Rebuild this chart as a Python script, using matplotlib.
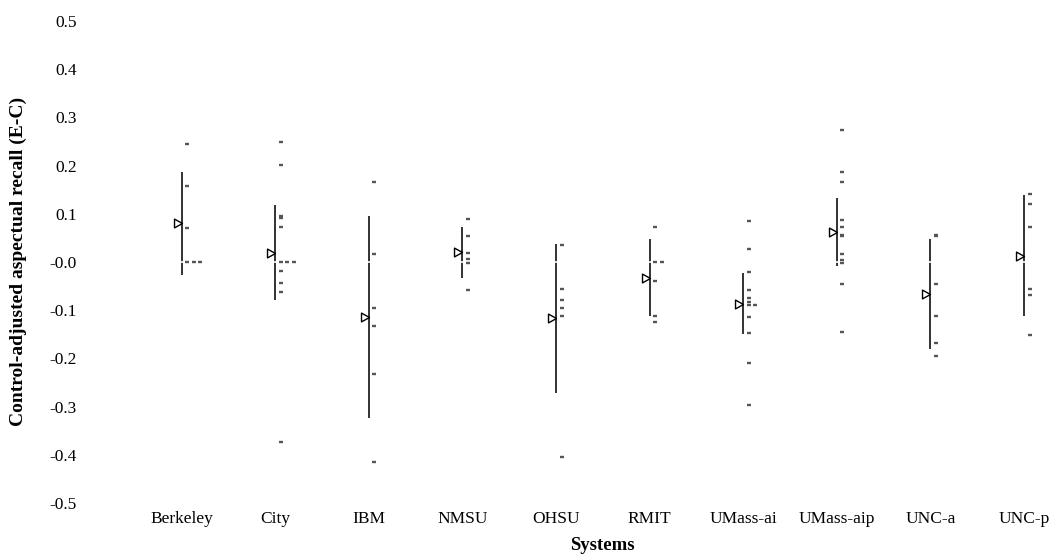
import numpy as np
import matplotlib
matplotlib.use("Agg")
import matplotlib.pyplot as plt
from matplotlib.path import Path
from matplotlib.markers import MarkerStyle
from matplotlib.transforms import ScaledTranslation

plt.rcParams["font.family"] = ["Liberation Serif", "DejaVu Serif"]

# Systems compared
systems = ["Berkeley", "City", "IBM", "NMSU", "OHSU",
           "RMIT", "UMass-ai", "UMass-aip", "UNC-a", "UNC-p"]

# Mean control-adjusted aspectual recall per system
means = [0.080, 0.019, -0.114, 0.020, -0.117,
         -0.033, -0.087, 0.062, -0.066, 0.012]

# Confidence interval bounds
ci_high = [0.187, 0.119, 0.095, 0.073, 0.038,
           0.047, -0.022, 0.132, 0.047, 0.139]
ci_low = [-0.028, -0.079, -0.323, -0.033, -0.271,
          -0.111, -0.150, -0.009, -0.180, -0.112]

# Per-topic scores (E-C) for each system
berkeley_pts = [0.244, 0.157, 0.070, 0.0, 0.0, 0.0]
city_pts = [0.250, 0.201, 0.096, 0.092, 0.072, 0.0, 0.0, 0.0,
            -0.018, -0.043, -0.063, -0.374]
ibm_pts = [0.166, 0.016, -0.096, -0.133, -0.233, -0.415]
nmsu_pts = [0.090, 0.053, 0.018, 0.006, -0.002, -0.058]
ohsu_pts = [0.035, -0.057, -0.079, -0.096, -0.113, -0.404]
rmit_pts = [0.073, 0.0, 0.0, -0.040, -0.112, -0.125]
umass_ai_pts = [0.086, 0.028, -0.021, -0.059, -0.074, -0.082,
                -0.090, -0.090, -0.115, -0.147, -0.209, -0.296]
umass_aip_pts = [0.273, 0.186, 0.166, 0.087, 0.072, 0.056, 0.053,
                 0.016, 0.005, -0.003, -0.045, -0.146]
unc_a_pts = [0.056, 0.053, -0.046, -0.113, -0.169, -0.196]
unc_p_pts = [0.142, 0.121, 0.072, -0.056, -0.069, -0.152]

topic_scores = [berkeley_pts, city_pts, ibm_pts, nmsu_pts, ohsu_pts,
                rmit_pts, umass_ai_pts, umass_aip_pts, unc_a_pts, unc_p_pts]

y_ticks = [0.5, 0.4, 0.3, 0.2, 0.1, 0.0, -0.1, -0.2, -0.3, -0.4, -0.5]
y_tick_labels = ["0.5", "0.4", "0.3", "0.2", "0.1", "-0.0",
                 "-0.1", "-0.2", "-0.3", "-0.4", "-0.5"]

W, H, DPI = 1050, 560, 100
fig = plt.figure(figsize=(W / DPI, H / DPI), dpi=DPI)
ax_left, ax_right, ax_top, ax_bottom = 85, 1045, 10, 510
ax = fig.add_axes([ax_left / W, (H - ax_bottom) / H,
                   (ax_right - ax_left) / W, (ax_bottom - ax_top) / H])

x = np.arange(len(systems))
px_per_unit = 93.6
ax.set_xlim(-(181.7 - ax_left) / px_per_unit,
            len(systems) - 1 + (ax_right - 1024) / px_per_unit)
ax.set_ylim((262.0 - ax_bottom) / 482.0, (262.0 - ax_top) / 482.0)

def px_shift(dx_px):
    return ax.transData + ScaledTranslation(dx_px / DPI, 0, fig.dpi_scale_trans)

# Interval lines
ax.vlines(x, ci_low, ci_high, colors="#222222", linewidth=1.3, zorder=2)

# Thin white break at zero
ax.axhline(0.0, color="white", linewidth=1.2, zorder=3)

# Topic scores as short ticks right of each line; repeated values step right
dash = MarkerStyle("_", capstyle="butt")
for xi, pts in zip(x, topic_scores):
    seen = {}
    for v in pts:
        k = seen.get(v, 0)
        seen[v] = k + 1
        ax.plot([xi], [v], marker=dash, markersize=3.5, markeredgewidth=1.7,
                color="#555555", linestyle="none",
                transform=px_shift(5.5 + 6.5 * k), zorder=4)

# Mean marker: open triangle pointing right, tip on the line
tri = Path([(-1.0, -0.55), (0.0, 0.0), (-1.0, 0.55), (-1.0, -0.55)],
           [Path.MOVETO, Path.LINETO, Path.LINETO, Path.CLOSEPOLY])
ax.plot(x, means, marker=tri, markersize=11.5, markerfacecolor="white",
        markeredgecolor="black", markeredgewidth=1.0, linestyle="none",
        zorder=5)

ax.set_xticks(x)
ax.set_xticklabels(systems, fontsize=12.5)
ax.set_yticks(y_ticks)
ax.set_yticklabels(y_tick_labels, fontsize=12.5)
ax.tick_params(axis="both", length=0)
ax.tick_params(axis="x", pad=1)
ax.tick_params(axis="y", pad=6)
for s in ax.spines.values():
    s.set_visible(False)

ax.set_xlabel("Systems", fontsize=13.5, fontweight="bold")
ax.xaxis.set_label_coords((602 - ax_left) / (ax_right - ax_left),
                          -(537 - ax_bottom) / (ax_bottom - ax_top))
ax.set_ylabel("Control-adjusted aspectual recall (E-C)", fontsize=14,
              fontweight="bold")
ax.yaxis.set_label_coords(-(ax_left - 27) / (ax_right - ax_left),
                          (ax_bottom - 261.5) / (ax_bottom - ax_top))

fig.savefig("out.png", dpi=DPI)
